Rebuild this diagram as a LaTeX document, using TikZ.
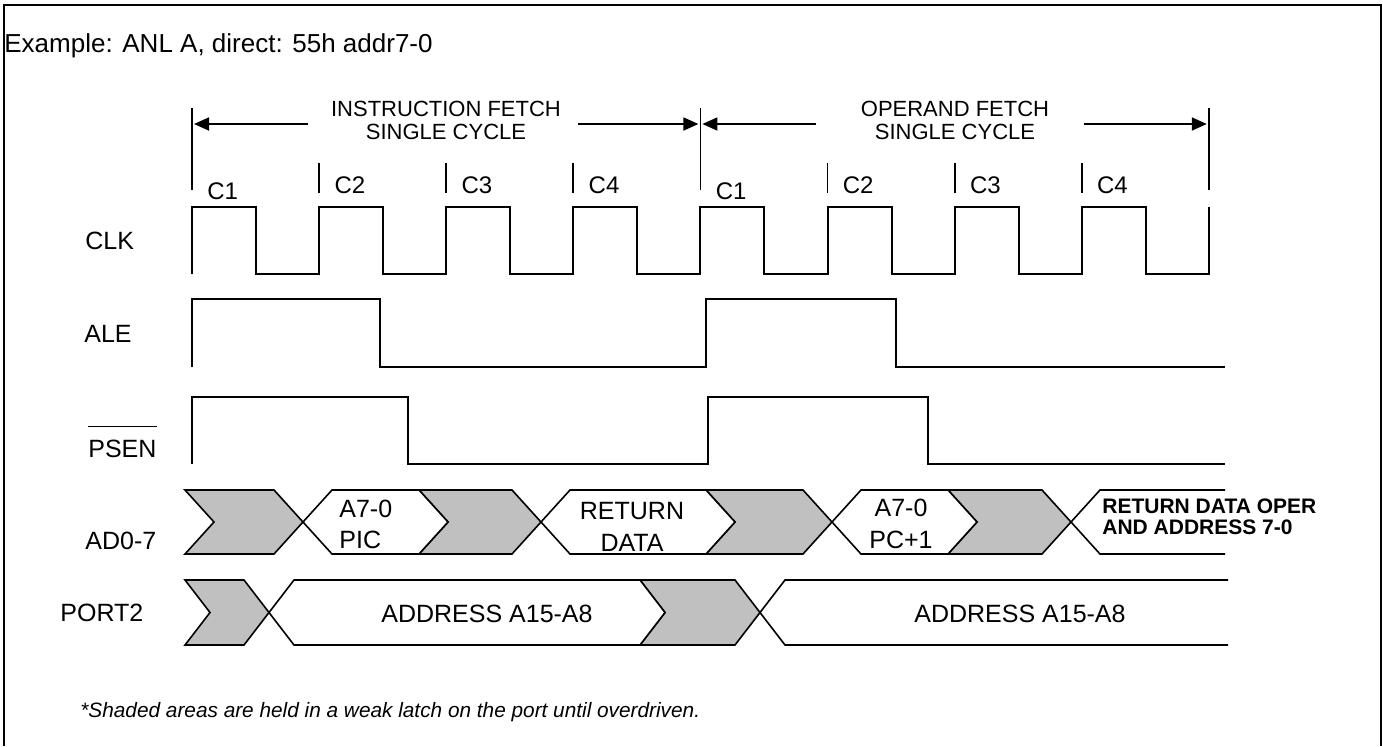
\documentclass[tikz,border=0pt]{standalone}
\usepackage{fontspec}
\setmainfont{Liberation Sans}
\usetikzlibrary{arrows.meta}
\definecolor{latchgray}{RGB}{192,192,192}

\begin{document}
\begin{tikzpicture}[x=0.5pt,y=-0.5pt,
    wave/.style={line width=1pt},
    bar/.style={line width=0.9pt},
    span/.style={line width=0.9pt,shorten >=1pt,-{Triangle[length=7.5pt,width=6.5pt]}},
    held/.style={draw,fill=latchgray,line width=0.8pt},
    driven/.style={draw,fill=white,line width=0.8pt},
    sig/.style={anchor=base west,inner sep=0pt,font=\fontsize{12.5}{15}\selectfont},
    cyc/.style={anchor=base west,inner sep=0pt,font=\fontsize{12}{14}\selectfont},
    head/.style={anchor=base,inner sep=0pt,font=\fontsize{11}{13}\selectfont},
    val/.style={anchor=base,inner sep=0pt,font=\fontsize{12.5}{15}\selectfont}]
\useasboundingbox (0,0) rectangle (1383,746);
\draw[line width=1pt] (4,746) -- (4,5) -- (1381,5) -- (1381,746);
\node[sig,font=\fontsize{13}{15}\selectfont] (title) at (4,52) {Example: ANL A, direct: 55h addr7-0};

\foreach \k in {0,4,8}{
  \draw[bar] ({192+127.1*\k},108) -- ++(0,82);
  \coordinate (bar\k) at ({192+127.1*\k},124);
}
\foreach \k in {1,2,3,5,6,7} \draw[bar] ({192+127.1*\k},163) -- ++(0,30);
\foreach \k in {0,...,7}{
  \pgfmathtruncatemacro\cn{mod(\k,4)+1}
  \pgfmathsetmacro\cy{\cn==1 ? 199 : 193}
  \node[cyc] (c\k) at ({207+127.1*\k},\cy) {C\cn};
}

\node[head] (ifetch) at (446,116) {INSTRUCTION FETCH};
\node[head] (icycle) at (446,139) {SINGLE CYCLE};
\node[head] (ofetch) at (955,116) {OPERAND FETCH};
\node[head] (ocycle) at (955,139) {SINGLE CYCLE};
\coordinate (il) at (308,124);
\coordinate (ir) at (578,124);
\coordinate (ol) at (816,124);
\coordinate (or) at (1084,124);
\draw[span] (il) -- (bar0);
\draw[span] (ir) -- (bar4);
\draw[span] (ol) -- (bar4);
\draw[span] (or) -- (bar8);

\node[sig] (clk) at (85,249) {CLK};
\node[sig] (ale) at (84,342) {ALE};
\node[sig] (psen) at (88,457) {PSEN};
\draw[line width=0.6pt] ([yshift=6.5pt]psen.north west) -- ([yshift=6.5pt]psen.north east);
\node[sig] (ad) at (85,549) {AD0-7};
\node[sig] (port) at (60,621) {PORT2};

\draw[wave] (192,274) \foreach \k in {0,...,7}{ -- ++(0,-67) -- ++(64,0) -- ++(0,67) -- ++(63.1,0)} -- ++(0,-67);
\draw[wave] (192,367) |- (380,299) |- (706,367) |- (896,299) |- (1225,367);
\draw[wave] (192,464) |- (408,397) |- (708,464) |- (928,397) |- (1225,464);

\foreach \a/\b in {185/274,419/512,706/803,948/1042}
  \draw[held] (\a,490) -- (\b,490) -- ({\b+29},522) -- (\b,554) -- (\a,554) -- ({\a+29},522) -- cycle;
\foreach \c/\a in {303/419,541/706,832/948}
  \draw[driven] (\c,522) -- ({\c+29},490) -- (\a,490) -- ({\a+29},522) -- (\a,554) -- ({\c+29},554) -- cycle;
\draw[driven] (1225,490) -- (1100,490) -- (1071,522) -- (1100,554) -- (1225,554);

\foreach \a/\b in {185/244,640/735}
  \draw[held] (\a,580) -- (\b,580) -- ({\b+25},612.5) -- (\b,645) -- (\a,645) -- ({\a+25},612.5) -- cycle;
\draw[driven] (269,612.5) -- (294,580) -- (640,580) -- (665,612.5) -- (640,645) -- (294,645) -- cycle;
\draw[driven] (1228,580) -- (785,580) -- (760,612.5) -- (785,645) -- (1228,645);

\node[sig] (pic1) at (339,517) {A7-0};
\node[sig] (pic2) at (339,548) {PIC};
\node[val] (ret1) at (632,519) {RETURN};
\node[val] (ret2) at (632,551) {DATA};
\node[val] (pc1) at (901,516) {A7-0};
\node[val] (pc2) at (901,548) {PC+1};
\node[sig,font=\fontsize{10.5}{12}\selectfont\bfseries] (oper1) at (1102,513) {RETURN DATA OPER};
\node[sig,font=\fontsize{10.5}{12}\selectfont\bfseries] (oper2) at (1102,534) {AND ADDRESS 7-0};
\node[val] (addr1) at (487,622) {ADDRESS A15-A8};
\node[val] (addr2) at (1020,622) {ADDRESS A15-A8};

\node[sig,font=\fontsize{10.4}{12}\selectfont\itshape] (note) at (80,717) {*Shaded areas are held in a weak latch on the port until overdriven.};
\end{tikzpicture}
\end{document}
